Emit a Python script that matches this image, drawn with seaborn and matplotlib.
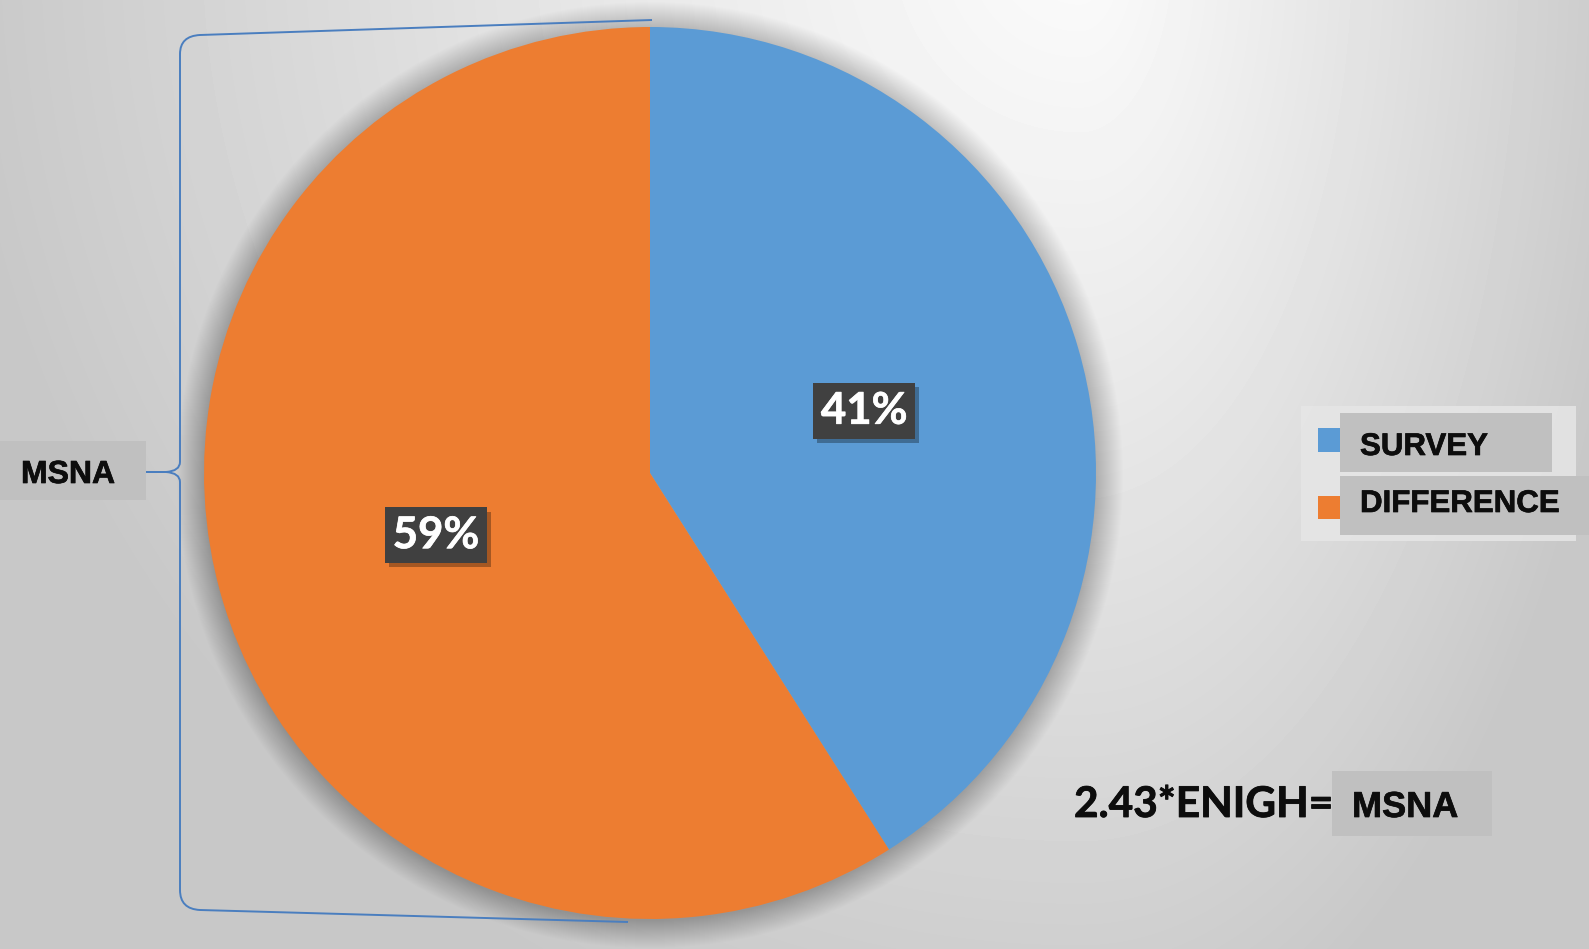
import numpy as np
import matplotlib
matplotlib.use("Agg")
import matplotlib.pyplot as plt
import matplotlib.patheffects as pe
from matplotlib.patches import Rectangle, Circle, PathPatch
from matplotlib.path import Path
import seaborn as sns

# ---- data ----
categories = ["SURVEY", "DIFFERENCE"]
shares = [41, 59]
bracket_label = "MSNA"
formula_text = "2.43*ENIGH="
formula_result = "MSNA"

W, H = 1589, 949
sns.set_theme(style="white")
plt.rcParams["font.family"] = ["Liberation Sans", "DejaVu Sans"]
palette = sns.color_palette(["#5b9bd5", "#ed7d31"])

fig = plt.figure(figsize=(W / 100, H / 100), dpi=100)
ax = fig.add_axes([0, 0, 1, 1])


def Y(y):
    """Convert a top-down pixel row to the axes' bottom-up data coordinate."""
    return H - y


def rect(x0, y0, x1, y1, color, z, alpha=1.0):
    ax.add_patch(Rectangle((x0, Y(y1)), x1 - x0, y1 - y0, fc=color, ec="none",
                           zorder=z, alpha=alpha))


def heavy(color, w=0.5):
    return [pe.withStroke(linewidth=w, foreground=color)]


# soft radial background, brightest near the top edge
xx, yy = np.meshgrid(np.arange(W) + 0.5, np.arange(H) + 0.5)
dx = xx - 1080
sx = np.where(dx < 0, 1120.0, 560.0)
r = np.hypot(dx / sx, (yy + 60) / 1150.0)
shade = 0.985 - 0.2 * np.clip(r, 0, 1) ** 1.1
ax.imshow(shade, cmap="gray", vmin=0, vmax=1, extent=(0, W, 0, H),
          origin="upper", zorder=0, interpolation="bilinear")

# pie with a soft drop shadow
cx, cy, R = 650, 473, 446
for i in range(28):
    ax.add_patch(Circle((cx, Y(cy + 2)), R + i * 1.0, fc="black", ec="none",
                        alpha=0.008, zorder=1))

wedges, _, autotexts = ax.pie(
    shares, colors=palette, startangle=90, counterclock=False,
    center=(cx, Y(cy)), radius=R, frame=True,
    autopct=lambda p: f"{p:.0f}%", pctdistance=0.5,
    wedgeprops=dict(linewidth=0),
)
for w in wedges:
    w.set_zorder(3)
for t in autotexts:
    t.set_fontfamily(["Lato", "DejaVu Sans"])
    t.set_fontweight("bold")
    t.set_fontsize(31.5)
    t.set_color("white")
    t.set_zorder(5)
    t.set_path_effects(heavy("white", 0.5))
    t.set_bbox(dict(boxstyle="square,pad=0.18", fc="#404040", ec="none", lw=0))
    t.get_bbox_patch().set_path_effects([
        pe.SimplePatchShadow(offset=(3, -3), shadow_rgbFace="black", alpha=0.3),
        pe.Normal()])

ax.set_xlim(0, W)
ax.set_ylim(0, H)
ax.set_aspect("equal")
ax.axis("off")

# bracket spanning the pie
brace_col = "#4a7ebf"
upper = [(652, 20), (200, 35), (180, 36), (180, 54), (180, 462),
         (180, 471), (166, 472), (146, 472)]
upper_codes = [Path.MOVETO, Path.LINETO, Path.CURVE3, Path.CURVE3, Path.LINETO,
               Path.CURVE3, Path.CURVE3, Path.LINETO]
lower = [(146, 472), (166, 472), (180, 473), (180, 482), (180, 890),
         (180, 909), (200, 910), (628, 922)]
lower_codes = [Path.MOVETO, Path.LINETO, Path.CURVE3, Path.CURVE3, Path.LINETO,
               Path.CURVE3, Path.CURVE3, Path.LINETO]
for pts, codes in ((upper, upper_codes), (lower, lower_codes)):
    verts = [(x, Y(y)) for x, y in pts]
    ax.add_patch(PathPatch(Path(verts, codes), fc="none", ec=brace_col,
                           lw=1.4, zorder=4))

# bracket label
rect(0, 441, 146, 500, "#c0c0c0", 4)
ax.text(21, Y(483), bracket_label, fontsize=23, fontweight="bold",
        color="#0d0d0d", ha="left", va="baseline", zorder=5,
        path_effects=heavy("#0d0d0d"))

# legend
rect(1301, 406, 1576, 541, "#e6e6e6", 4, alpha=0.85)
box_rows = [(413, 472, 1552, 455, 428, 452), (476, 535, 1600, 512, 496, 519)]
for (b0, b1, bx1, base, m0, m1), name, col in zip(box_rows, categories, palette):
    rect(1318, m0, 1341, m1, col, 5)
    rect(1340, b0, bx1, b1, "#c0c0c0", 5)
    ax.text(1360, Y(base), name, fontsize=22.5, fontweight="bold",
            color="#0d0d0d", ha="left", va="baseline", zorder=6,
            path_effects=heavy("#0d0d0d"))

# formula
rect(1332, 771, 1492, 836, "#c0c0c0", 4)
ax.text(1074, Y(817), formula_text, fontsize=30.5, fontweight="bold",
        family=["Lato", "DejaVu Sans"], color="#0d0d0d", ha="left",
        va="baseline", zorder=5, path_effects=heavy("#0d0d0d", 0.6))
ax.text(1352, Y(817), formula_result, fontsize=26, fontweight="bold",
        color="#0d0d0d", ha="left", va="baseline", zorder=5,
        path_effects=heavy("#0d0d0d"))

fig.savefig("out.png", dpi=100)
